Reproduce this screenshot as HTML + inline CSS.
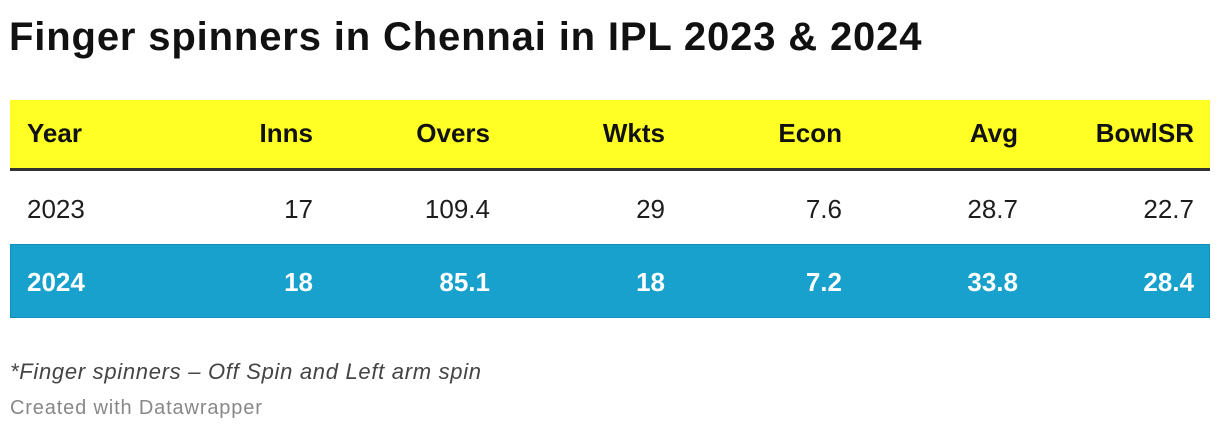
<!DOCTYPE html>
<html><head><style>
body{margin:0;width:1220px;height:432px;background:#fff;font-family:"Liberation Sans",Arial,sans-serif;position:relative;overflow:hidden;color:#1d1d1d}
.a{position:absolute;white-space:nowrap}
.t{left:9px;top:15px;font-size:40px;font-weight:bold;color:#111;letter-spacing:0.85px}
.row{position:absolute;left:10px;width:1200px}
.c{position:absolute;font-size:26px;line-height:30px}
.r{text-align:right;width:200px}
</style></head><body>
<div class="a t">Finger spinners in Chennai in IPL 2023 &amp; 2024</div>
<div class="row" style="top:100px;height:68px;background:#ffff25"></div>
<div class="row" style="top:168px;height:3px;background:#333"></div>
<div class="row" style="top:244px;height:74px;background:#18a1cd;box-sizing:border-box;border:1px solid #1290bb"></div>

<div class="c" style="left:27px;top:118px;font-weight:bold;color:#111">Year</div>
<div class="c r" style="left:113px;top:118px;font-weight:bold;color:#111">Inns</div>
<div class="c r" style="left:290px;top:118px;font-weight:bold;color:#111">Overs</div>
<div class="c r" style="left:465px;top:118px;font-weight:bold;color:#111">Wkts</div>
<div class="c r" style="left:642px;top:118px;font-weight:bold;color:#111">Econ</div>
<div class="c r" style="left:818px;top:118px;font-weight:bold;color:#111">Avg</div>
<div class="c r" style="left:994px;top:118px;font-weight:bold;color:#111">BowlSR</div>

<div class="c" style="left:27px;top:194px">2023</div>
<div class="c r" style="left:113px;top:194px">17</div>
<div class="c r" style="left:290px;top:194px">109.4</div>
<div class="c r" style="left:465px;top:194px">29</div>
<div class="c r" style="left:642px;top:194px">7.6</div>
<div class="c r" style="left:818px;top:194px">28.7</div>
<div class="c r" style="left:994px;top:194px">22.7</div>

<div style="color:#fff;font-weight:bold">
<div class="c" style="left:27px;top:267px">2024</div>
<div class="c r" style="left:113px;top:267px">18</div>
<div class="c r" style="left:290px;top:267px">85.1</div>
<div class="c r" style="left:465px;top:267px">18</div>
<div class="c r" style="left:642px;top:267px">7.2</div>
<div class="c r" style="left:818px;top:267px">33.8</div>
<div class="c r" style="left:994px;top:267px">28.4</div>
</div>

<div class="a" style="left:10px;top:359px;font-size:22px;letter-spacing:0.7px;font-style:italic;color:#444">*Finger spinners – Off Spin and Left arm spin</div>
<div class="a" style="left:10px;top:397px;font-size:20px;letter-spacing:0.85px;color:#888">Created with Datawrapper</div>
</body></html>
